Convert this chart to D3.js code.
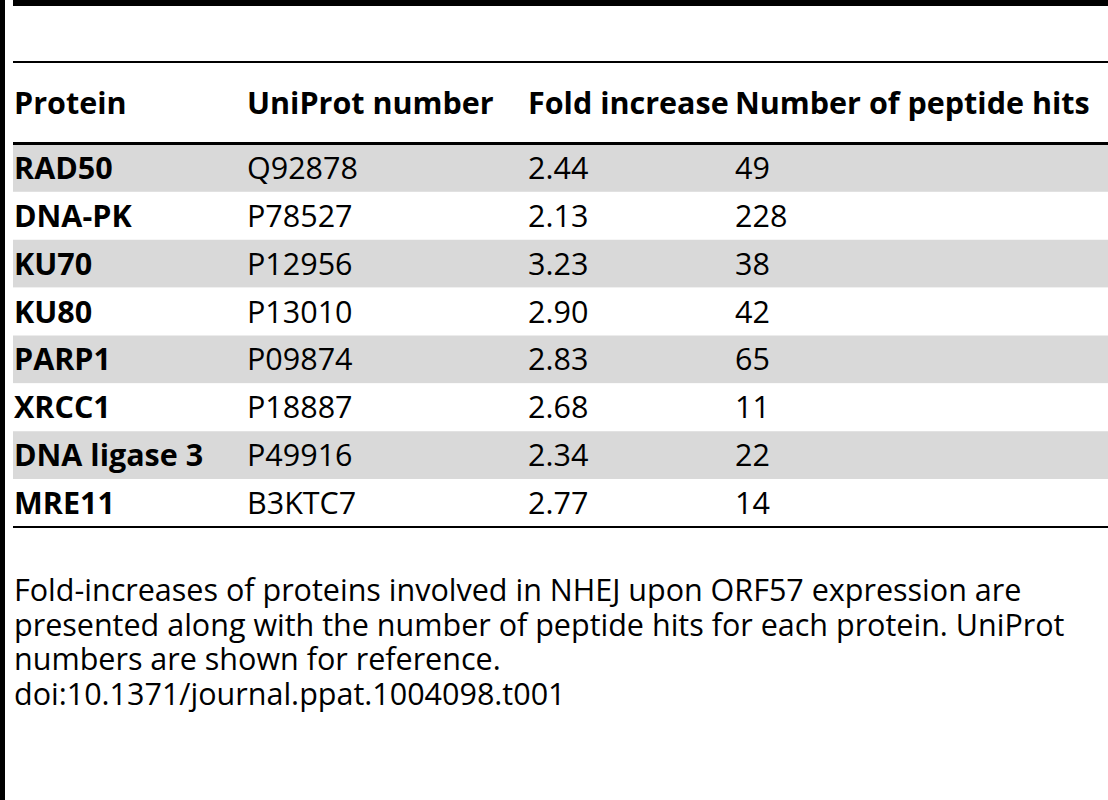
<!DOCTYPE html><html><head><meta charset="utf-8">
<script src="https://cdn.jsdelivr.net/npm/d3@7"></script>
<style>body{margin:0;background:#fff}</style></head><body><svg id="c" width="1108" height="800"></svg>
<script>
const headers=["Protein","UniProt number","Fold increase","Number of peptide hits"];
const proteins=["RAD50","DNA-PK","KU70","KU80","PARP1","XRCC1","DNA ligase 3","MRE11"];
const uniprot=["Q92878","P78527","P12956","P13010","P09874","P18887","P49916","B3KTC7"];
const fold=["2.44","2.13","3.23","2.90","2.83","2.68","2.34","2.77"];
const hits=["49","228","38","42","65","11","22","14"];
const caption=["Fold-increases of proteins involved in NHEJ upon ORF57 expression are","presented along with the number of peptide hits for each protein. UniProt","numbers are shown for reference.","doi:10.1371/journal.ppat.1004098.t001"];
const svg=d3.select("#c"),F="'Open Sans',sans-serif",FS=30.5;
const x=d3.scaleOrdinal().domain([0,1,2,3]).range([14,247,528,735]);
const y=d3.scaleBand().domain(d3.range(proteins.length)).range([144,527]);
svg.append("rect").attr("x",0).attr("y",0).attr("width",5).attr("height",800).attr("fill","#000");
svg.append("rect").attr("x",13).attr("y",0).attr("width",1095).attr("height",6).attr("fill","#000");
svg.append("rect").attr("x",13).attr("y",61).attr("width",1095).attr("height",2).attr("fill","#000");
svg.selectAll(".bg").data(proteins).join("rect").attr("x",13).attr("width",1095)
 .attr("y",(d,i)=>y(i)).attr("height",y.bandwidth()).attr("fill",(d,i)=>i%2==0?"#d9d9d9":"#fff");
svg.append("rect").attr("x",13).attr("y",142).attr("width",1095).attr("height",3).attr("fill","#000");
svg.append("rect").attr("x",13).attr("y",526).attr("width",1095).attr("height",2).attr("fill","#000");
svg.selectAll(".h").data(headers).join("text").attr("x",(d,i)=>x(i)).attr("y",114)
 .attr("font-family",F).attr("font-weight","bold").attr("font-size",FS).text(d=>d);
const cols=[proteins,uniprot,fold,hits];
cols.forEach((c,j)=>svg.selectAll(".c"+j).data(c).join("text").attr("x",x(j)).attr("y",(d,i)=>y(i)+y.bandwidth()/2+11)
 .attr("font-family",F).attr("font-weight",j==0?"bold":"normal").attr("font-size",FS).text(d=>d));
svg.selectAll(".cap").data(caption).join("text").attr("x",14).attr("y",(d,i)=>601+i*34.5)
 .attr("font-family",F).attr("font-size",FS).text(d=>d);
</script></body></html>
